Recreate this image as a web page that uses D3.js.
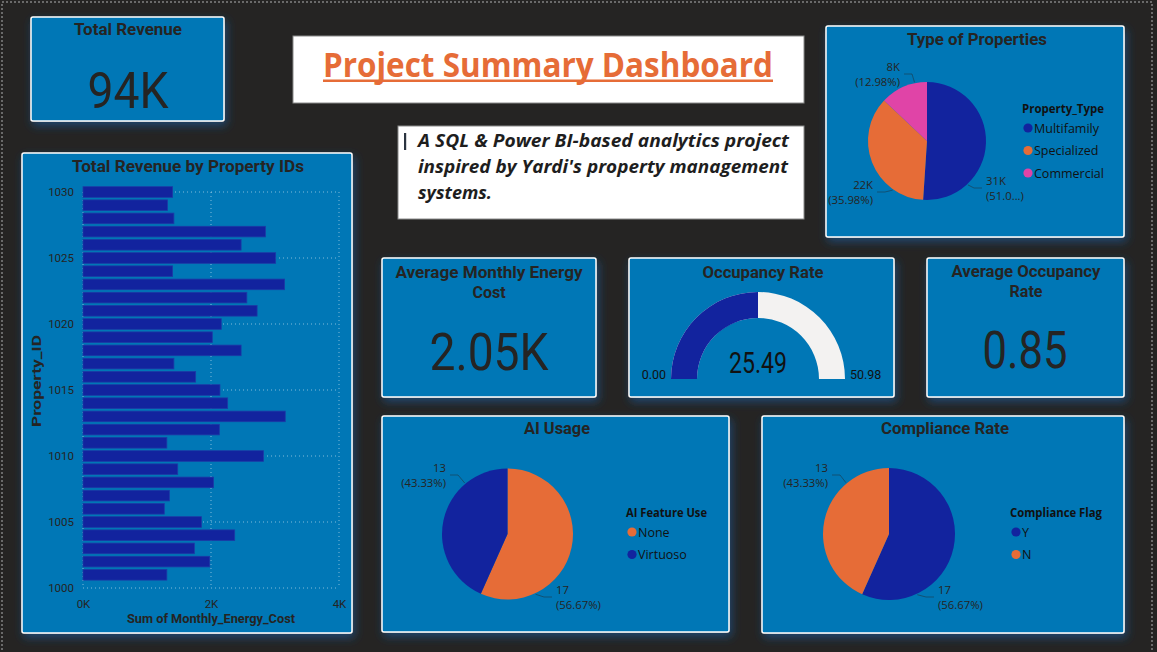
<!DOCTYPE html>
<html><head><meta charset="utf-8">
<script src="https://cdn.jsdelivr.net/npm/d3@7"></script>
<style>html,body{margin:0;padding:0;background:#252423;overflow:hidden}</style>
</head><body><svg id="c" width="1157" height="652"></svg>
<script>
// ---------- DATA ----------
const propertyIds = [1001,1002,1003,1004,1005,1006,1007,1008,1009,1010,1011,1012,1013,1014,1015,1016,1017,1018,1019,1020,1021,1022,1023,1024,1025,1026,1027,1028,1029,1030];
const monthlyEnergyCost = [1310,1980,1740,2370,1850,1270,1350,2040,1480,2820,1310,2130,3160,2260,2140,1760,1420,2470,2020,2160,2720,2560,3150,1400,3010,2470,2850,1420,1320,1400];
const xTickValues = [0,2000,4000];
const yTickValues = [1000,1005,1010,1015,1020,1025,1030];

const propertyTypes = ["Multifamily","Specialized","Commercial"];
const propertyTypeValues = [31310,22070,7960];
const propertyTypeValueLabels = ["31K","22K","8K"];
const propertyTypePctLabels = ["(51.0...)","(35.98%)","(12.98%)"];

const aiFeatureUse = ["None","Virtuoso"];
const aiCounts = [17,13];
const complianceFlags = ["Y","N"];
const complianceCounts = [17,13];

const totalRevenueLabel = "94K";
const avgEnergyCostLabel = "2.05K";
const occupancyValue = 25.49;
const occupancyMin = 0;
const occupancyMax = 50.98;
const avgOccupancyLabel = "0.85";

// ---------- STYLE ----------
const BG="#252423", CARD="#0077B6", DARK="#252423", NAVY="#12239E", ORANGE="#E66C37", PINK="#E044A7", LIGHT="#F3F2F1";
const DIN="Roboto, 'DejaVu Sans', sans-serif";
const SEGOE="'Segoe UI','Open Sans','Noto Sans',sans-serif";

const svg = d3.select("#c");
const defs = svg.append("defs");
const f = defs.append("filter").attr("id","glow").attr("x","-20%").attr("y","-20%").attr("width","140%").attr("height","150%");
f.append("feDropShadow").attr("dx",2).attr("dy",4).attr("stdDeviation",5).attr("flood-color","#1d4a74").attr("flood-opacity",0.95);

svg.append("rect").attr("width",1157).attr("height",652).attr("fill",BG);
svg.append("rect").attr("x",2).attr("y",2).attr("width",1150).attr("height",700)
  .attr("fill","none").attr("stroke","#6a6a6a").attr("stroke-width",2).attr("stroke-dasharray","2,2");

function card(x,y,w,h){
  svg.append("rect").attr("x",x).attr("y",y).attr("width",w).attr("height",h).attr("rx",2)
    .attr("fill",CARD).attr("stroke","#ffffff").attr("stroke-width",1.5).attr("filter","url(#glow)");
}
function txt(p,x,y,s,o={}){
  const t=p.append("text").attr("x",x).attr("y",y).text(s)
    .attr("font-family",o.family||DIN).attr("font-size",o.size||12)
    .attr("font-weight",o.weight||400).attr("fill",o.fill||DARK)
    .attr("text-anchor",o.anchor||"start");
  if(o.style) t.attr("font-style",o.style);
  if(o.len) t.attr("textLength",o.len).attr("lengthAdjust","spacingAndGlyphs");
  return t;
}

// ---------- KPI: Total Revenue ----------
card(31,17,193,104);
txt(svg,128,35,"Total Revenue",{size:16,weight:700,anchor:"middle",len:108});
txt(svg,128,108,totalRevenueLabel,{size:50,anchor:"middle",len:81});

// ---------- Title ----------
svg.append("rect").attr("x",293).attr("y",36).attr("width",511).attr("height",67).attr("fill","#fff").attr("stroke","#8a8a8a");
txt(svg,548,77,"Project Summary Dashboard",{family:SEGOE,size:34,weight:700,anchor:"middle",fill:ORANGE,len:450});
svg.append("rect").attr("x",323).attr("y",79.5).attr("width",450).attr("height",2.5).attr("fill",ORANGE);

// ---------- Subtitle ----------
svg.append("rect").attr("x",398).attr("y",126).attr("width",406).attr("height",93).attr("fill","#fff").attr("stroke","#8a8a8a");
svg.append("rect").attr("x",404).attr("y",133).attr("width",2.2).attr("height",17).attr("fill","#2b3440");
const subLines=[["A SQL & Power BI-based analytics project",371],["inspired by Yardi's property management",370],["systems.",74]];
subLines.forEach((l,i)=>txt(svg,418,147+i*26,l[0],{family:SEGOE,size:18.5,weight:700,style:"italic",fill:"#1e1e1e",len:l[1]}));

// ---------- Bar chart ----------
card(22,153,330,480);
txt(svg,188,172,"Total Revenue by Property IDs",{size:16,weight:700,anchor:"middle",len:232});
const x = d3.scaleLinear().domain([0,4000]).range([83,339]);
const y = d3.scaleLinear().domain([1000,1030]).range([588,192]);
const g = svg.append("g");
g.selectAll(".vg").data(xTickValues).join("line")
  .attr("x1",d=>x(d)).attr("x2",d=>x(d)).attr("y1",y(1030)).attr("y2",y(1000))
  .attr("stroke","rgba(255,255,255,0.5)").attr("stroke-width",1).attr("stroke-dasharray","1,3");
g.selectAll(".hg").data(yTickValues).join("line")
  .attr("x1",x(0)).attr("x2",x(4000)).attr("y1",d=>y(d)).attr("y2",d=>y(d))
  .attr("stroke","rgba(255,255,255,0.5)").attr("stroke-width",1).attr("stroke-dasharray","1,3");
const bh = 10.6;
g.selectAll(".bar").data(propertyIds.map((id,i)=>({id,v:monthlyEnergyCost[i]}))).join("rect")
  .attr("x",x(0)).attr("y",d=>y(d.id)-bh/2).attr("width",d=>x(d.v)-x(0)).attr("height",bh)
  .attr("fill",NAVY).attr("stroke","#1c3aa6").attr("stroke-width",0.8);
const ax = svg.append("g").attr("transform",`translate(0,${y(1000)})`)
  .call(d3.axisBottom(x).tickValues(xTickValues).tickFormat(d=>d/1000+"K").tickSize(0).tickPadding(12));
const ay = svg.append("g").attr("transform",`translate(${x(0)},0)`)
  .call(d3.axisLeft(y).tickValues(yTickValues).tickFormat(d3.format("d")).tickSize(0).tickPadding(9));
[ax,ay].forEach(a=>{a.select(".domain").remove();a.selectAll("text").attr("font-family",DIN).attr("font-size",11.5).attr("fill",DARK);});
txt(svg,211,623,"Sum of Monthly_Energy_Cost",{size:13,weight:700,anchor:"middle",len:168});
txt(svg,0,0,"Property_ID",{size:13,weight:700,anchor:"middle",len:92}).attr("transform","translate(41,381) rotate(-90)");

// ---------- Pie helpers ----------
function pieChart(cx,cy,r,values,colors,valLabels,pctLabels,labelLayout){
  const pg = svg.append("g").attr("transform",`translate(${cx},${cy})`);
  const arcs = d3.pie().sort(null)(values);
  const arc = d3.arc().innerRadius(0).outerRadius(r);
  pg.selectAll("path").data(arcs).join("path").attr("d",arc).attr("fill",(d,i)=>colors[i]);
  arcs.forEach((a,i)=>{
    const L = labelLayout[i];
    const ang = L.angle*Math.PI/180;
    const sx = Math.sin(ang)*(r+1), sy = -Math.cos(ang)*(r+1);
    const ex = L.tx-cx + (L.anchor==="end"?4:-4), ey = L.ty-cy;
    const mx = ex + (L.anchor==="end"?8:-8);
    pg.append("polyline").attr("points",`${sx},${sy} ${mx},${ey} ${ex},${ey}`)
      .attr("fill","none").attr("stroke","rgba(37,36,35,0.5)").attr("stroke-width",0.9);
    txt(svg,L.tx,L.ty-3,valLabels[i],{family:SEGOE,size:11.3,anchor:L.anchor});
    txt(svg,L.tx,L.ty+12,pctLabels[i],{family:SEGOE,size:11.3,anchor:L.anchor});
  });
}
function pct(vals){const s=d3.sum(vals);return vals.map(v=>"("+(v/s*100).toFixed(2)+"%)");}
function legend(x0,y0,title,items,colors,tlen){
  txt(svg,x0,y0,title,{family:SEGOE,size:12.5,weight:700,fill:"#111",len:tlen});
  items.forEach((it,i)=>{
    const cy=y0+15+i*22.5;
    svg.append("circle").attr("cx",x0+6).attr("cy",cy).attr("r",4.6).attr("fill",colors[i]);
    txt(svg,x0+12,cy+4.5,it,{family:SEGOE,size:12.5,fill:"#111"});
  });
}

// ---------- Type of Properties ----------
card(826,26,298,211);
txt(svg,977,45,"Type of Properties",{size:16,weight:700,anchor:"middle",len:140});
pieChart(927,141,59,propertyTypeValues,[NAVY,ORANGE,PINK],propertyTypeValueLabels,propertyTypePctLabels,
  [{angle:137,tx:986,ty:188,anchor:"start"},{angle:215,tx:873,ty:192,anchor:"end"},{angle:348,tx:900,ty:74,anchor:"end"}]);
legend(1022,113,"Property_Type",propertyTypes,[NAVY,ORANGE,PINK],82);

// ---------- KPI: Avg Monthly Energy Cost ----------
card(382,258,214,139);
txt(svg,489,278,"Average Monthly Energy",{size:16,weight:700,anchor:"middle",len:187});
txt(svg,489,298,"Cost",{size:16,weight:700,anchor:"middle"});
txt(svg,489,370,avgEnergyCostLabel,{size:51,anchor:"middle",len:119});

// ---------- Gauge ----------
card(629,258,265,139);
txt(svg,763,278,"Occupancy Rate",{size:16,weight:700,anchor:"middle",len:121});
const gs = d3.scaleLinear().domain([occupancyMin,occupancyMax]).range([-Math.PI/2,Math.PI/2]);
const garc = d3.arc().innerRadius(61).outerRadius(87);
const gg = svg.append("g").attr("transform","translate(758,379)");
gg.append("path").attr("d",garc({startAngle:gs(occupancyMin),endAngle:gs(occupancyMax)})).attr("fill",LIGHT);
gg.append("path").attr("d",garc({startAngle:gs(occupancyMin),endAngle:gs(occupancyValue)})).attr("fill",NAVY);
txt(svg,758,373,occupancyValue.toFixed(2),{size:29,anchor:"middle",fill:"#111",len:58});
txt(svg,666,379,occupancyMin.toFixed(2),{size:12.5,anchor:"end",fill:"#111"});
txt(svg,850,379,occupancyMax.toFixed(2),{size:12.5,anchor:"start",fill:"#111"});

// ---------- KPI: Avg Occupancy ----------
card(927,258,197,139);
txt(svg,1026,277,"Average Occupancy",{size:16,weight:700,anchor:"middle",len:149});
txt(svg,1026,297,"Rate",{size:16,weight:700,anchor:"middle"});
txt(svg,1025,368,avgOccupancyLabel,{size:51,anchor:"middle",len:85});

// ---------- AI Usage ----------
card(382,416,347,216);
txt(svg,557,434,"AI Usage",{size:16,weight:700,anchor:"middle",len:66});
pieChart(507.5,534,65.5,aiCounts,[ORANGE,NAVY],aiCounts.map(String),pct(aiCounts),
  [{angle:155,tx:556,ty:597,anchor:"start"},{angle:320,tx:446,ty:475,anchor:"end"}]);
legend(626,517,"AI Feature Use",aiFeatureUse,[ORANGE,NAVY],81);

// ---------- Compliance ----------
card(762,416,362,217);
txt(svg,945,434,"Compliance Rate",{size:16,weight:700,anchor:"middle",len:128});
pieChart(889,534,66,complianceCounts,[NAVY,ORANGE],complianceCounts.map(String),pct(complianceCounts),
  [{angle:155,tx:938,ty:597,anchor:"start"},{angle:320,tx:828,ty:475,anchor:"end"}]);
legend(1010,517,"Compliance Flag",complianceFlags,[NAVY,ORANGE],92);
</script></body></html>
